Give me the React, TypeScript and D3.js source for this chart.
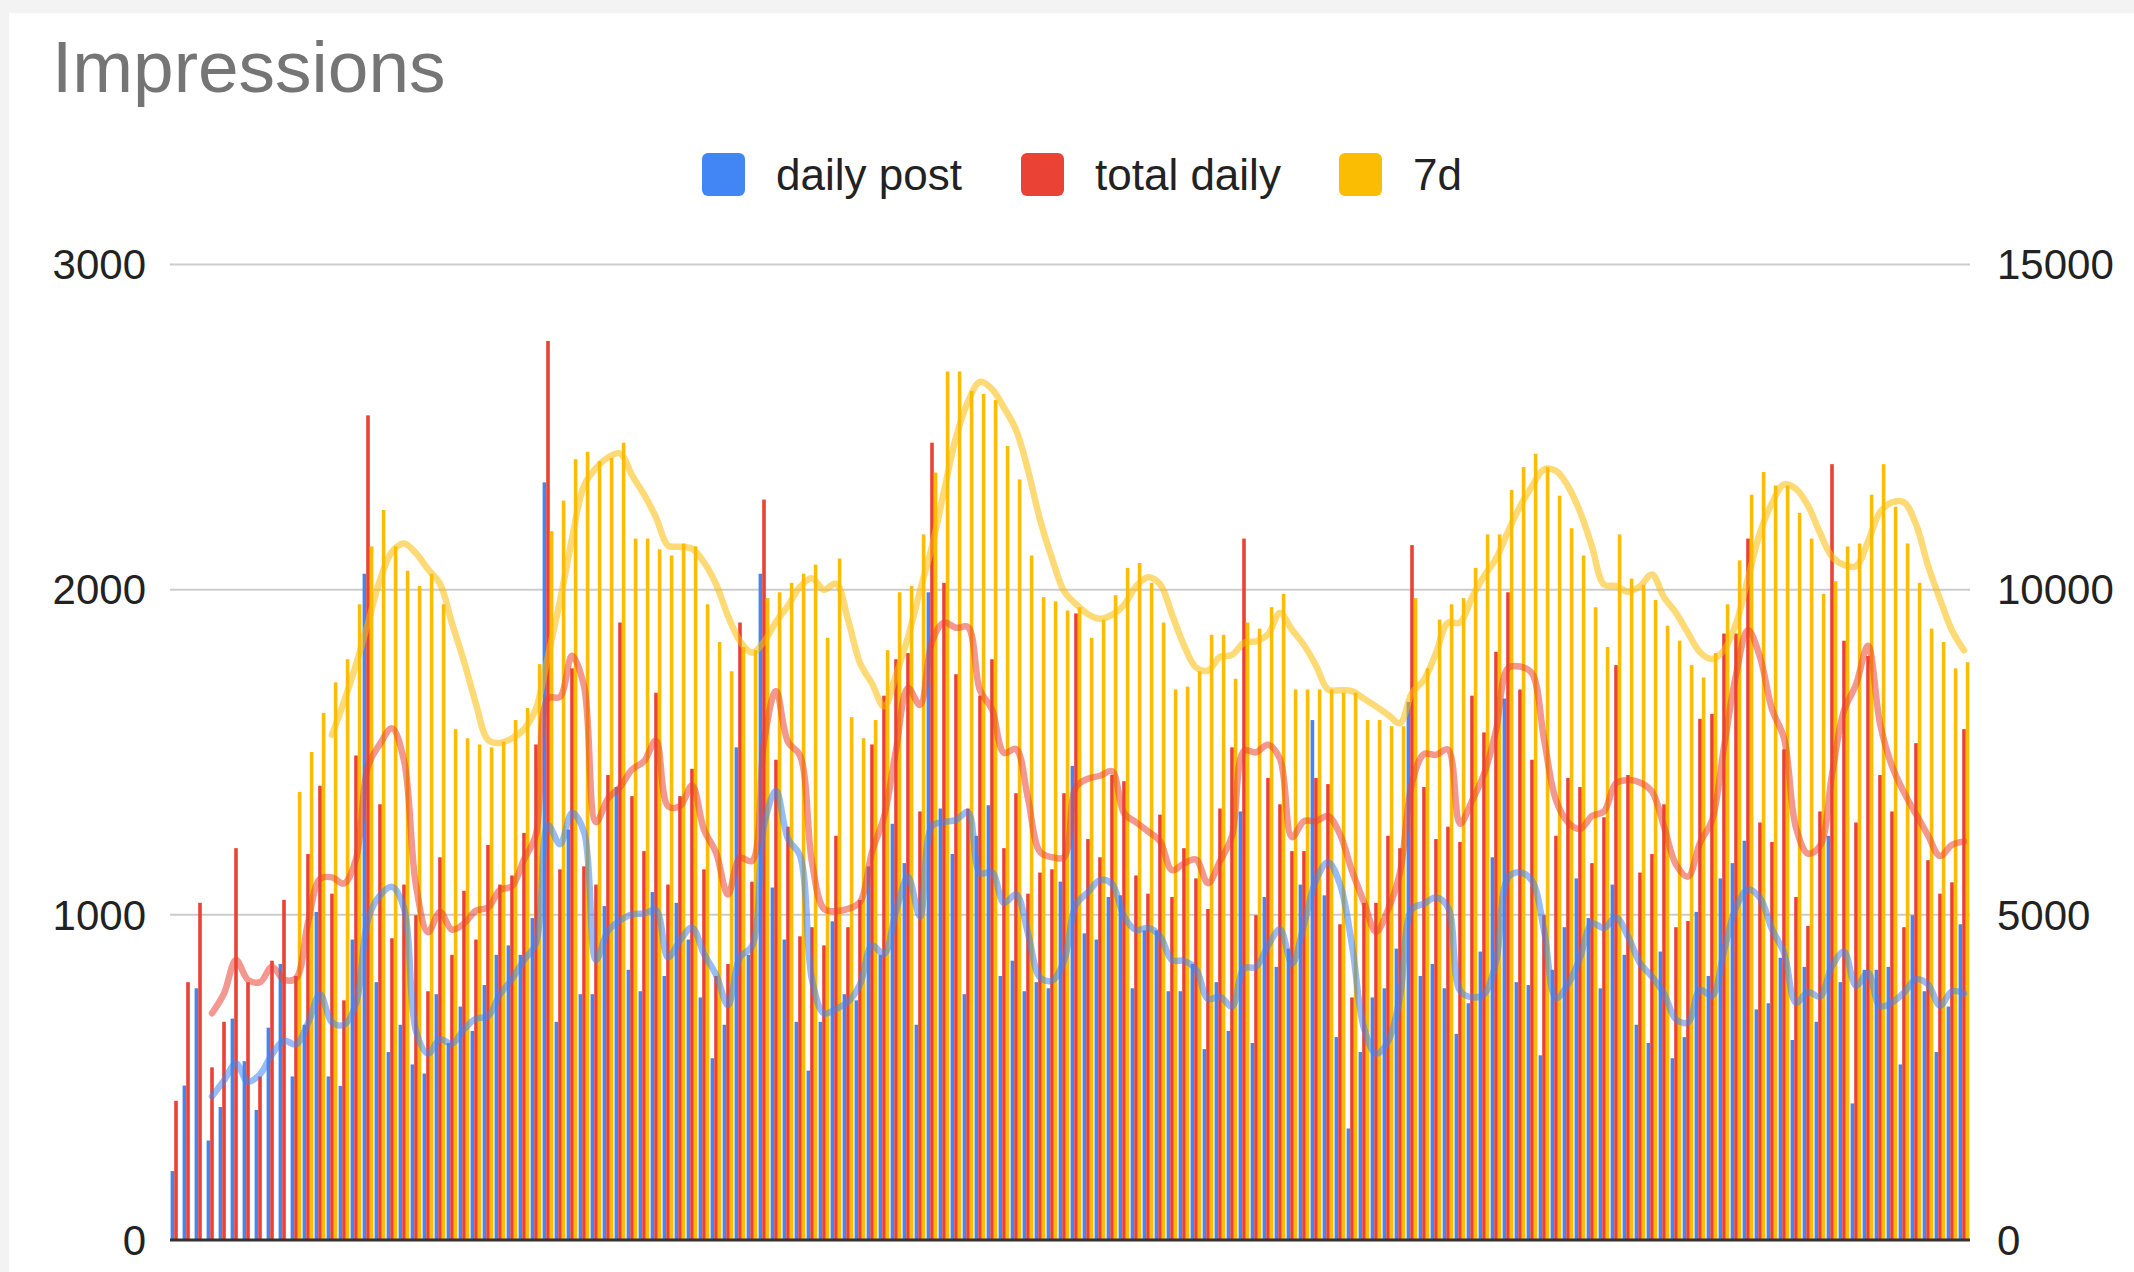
import React, { useEffect, useRef } from 'react';
import * as d3 from 'd3';

// Daily values, left axis (0-3000)
const dailyPost = [
  212, 475, 774, 306, 409, 681, 550, 400, 653, 849,
  503, 662, 1009, 503, 474, 924, 2049, 793, 578, 662,
  540, 512, 756, 606, 718, 643, 784, 877, 906, 877,
  990, 2330, 671, 1262, 756, 756, 1027, 1393, 831, 765,
  1070, 812, 1037, 924, 746, 559, 662, 1515, 877, 2049,
  1084, 924, 671, 521, 671, 980, 756, 737, 1149, 877,
  1280, 1159, 662, 1992, 1327, 1187, 756, 1243, 1337, 812,
  859, 765, 793, 774, 1102, 1458, 943, 924, 1055, 1060,
  774, 952, 952, 765, 765, 849, 587, 793, 643, 1318,
  606, 1055, 840, 896, 1093, 1599, 1060, 624, 343, 578,
  746, 774, 896, 1655, 812, 849, 774, 634, 728, 887,
  1177, 1665, 793, 784, 568, 831, 962, 1112, 990, 774,
  1093, 877, 662, 606, 887, 559, 624, 1009, 812, 1112,
  1159, 1228, 709, 728, 868, 615, 840, 671, 1243, 793,
  420, 831, 831, 840, 540, 999, 765, 578, 718, 971,
];

const totalDaily = [
  428, 793, 1037, 531, 671, 1205, 793, 503, 859, 1046,
  812, 1187, 1397, 1065, 737, 1490, 2536, 1340, 928, 1093,
  999, 765, 1177, 877, 1074, 924, 1215, 1093, 1121, 1252,
  1524, 2765, 1140, 1758, 1149, 1093, 1430, 1899, 1365, 1196,
  1683, 1093, 1365, 1449, 1140, 812, 849, 1899, 1102, 2277,
  1477, 1271, 934, 962, 906, 1243, 962, 1046, 1524, 1674,
  1786, 1805, 1318, 2452, 2021, 1740, 1327, 1674, 1786, 1205,
  1374, 1065, 1130, 1140, 1374, 1927, 1233, 1177, 1430, 1411,
  1121, 1065, 1308, 1055, 1205, 1112, 1018, 1327, 1515, 2157,
  999, 1421, 1340, 1196, 1196, 1421, 1402, 971, 746, 1037,
  1037, 1243, 1205, 2137, 1393, 1233, 1271, 1224, 1674, 1561,
  1809, 1992, 1693, 1477, 999, 1243, 1421, 1393, 1159, 1300,
  1768, 1430, 1130, 1187, 1340, 962, 981, 1603, 1618, 1865,
  1865, 2157, 1284, 1224, 1509, 1055, 966, 1318, 2386, 1843,
  1284, 1796, 1430, 1318, 962, 1528, 1168, 1065, 1100, 1571,
];

// Rolling 7 day total, right axis (0-15000)
const sevenDay: (number | null)[] = [
  null, null, null, null, null, null, null, null, null, null,
  6890, 7505, 8105, 8575, 8930, 9775, 10665, 11225, 10665, 10290,
  10057, 10245, 9775, 7855, 7715, 7620, 7575, 7665, 7995, 8180,
  8855, 10900, 11370, 12005, 12120, 11975, 12025, 12260, 10785, 10785,
  10620, 10525, 10710, 10665, 9775, 9195, 8745, 9120, 9070, 9870,
  9960, 10105, 10245, 10385, 9260, 10480, 8040, 7715, 7995, 9070,
  9960, 10055, 10850, 11800, 13355, 13355, 13055, 13010, 12915, 12210,
  11695, 10525, 9885, 9820, 9680, 9730, 9260, 9540, 9915, 10335,
  10410, 10105, 9495, 8465, 8510, 8745, 9305, 9305, 8630, 9495,
  9400, 9730, 9935, 8465, 8465, 8465, 8465, 8415, 8415, 7995,
  7995, 7900, 7900, 9870, 8790, 9540, 9775, 9870, 10335, 10850,
  10850, 11535, 11885, 12090, 11885, 11445, 10945, 10525, 9730, 9120,
  10850, 10170, 10075, 9840, 9445, 9215, 8840, 8650, 9025, 9775,
  10450, 11460, 11810, 11600, 11600, 11180, 10785, 9935, 10130, 10665,
  10710, 11460, 11930, 11275, 10710, 10105, 9400, 9195, 8790, 8885,
];

const seriesNames = ['daily post', 'total daily', '7d'];
const seriesColors = ['#4285f4', '#ea4335', '#fbbc04'];
const leftTicks = [0, 1000, 2000, 3000];
const rightTicks = [0, 5000, 10000, 15000];
const trendPeriod = 4;

const WIDTH = 2134;
const HEIGHT = 1272;
const FONT = '"Liberation Sans", Arial, Helvetica, sans-serif';

// trailing moving average, like the sheet's trendline
function movingAverage(values: (number | null)[], period: number) {
  const out: { i: number; v: number }[] = [];
  values.forEach((v, i) => {
    if (i < period - 1) return;
    const win = values.slice(i - period + 1, i + 1);
    if (win.some(w => w == null)) return;
    out.push({ i, v: d3.mean(win as number[]) as number });
  });
  return out;
}

const App: React.FC = () => {
  const svgRef = useRef<SVGSVGElement>(null);

  useEffect(() => {
    if (!svgRef.current) return;
    const svg = d3.select(svgRef.current);
    svg.selectAll('*').remove();

    const margin = { left: 170, right: 164, top: 264.5, bottom: 32 };
    const plotRight = WIDTH - margin.right;
    const plotBottom = HEIGHT - margin.bottom;

    // background card
    svg.append('rect').attr('width', WIDTH).attr('height', HEIGHT).attr('fill', '#f3f3f3');
    svg.append('rect').attr('x', 9).attr('y', 13).attr('width', WIDTH - 9).attr('height', HEIGHT - 13).attr('fill', '#ffffff');

    const days = dailyPost.map((_, i) => i);

    const x0 = d3.scaleBand<number>()
      .domain(days)
      .range([margin.left, plotRight])
      .paddingInner(0.1)
      .paddingOuter(0.05);

    const x1 = d3.scaleBand<string>()
      .domain(seriesNames)
      .range([0, x0.bandwidth()]);

    const yLeft = d3.scaleLinear().domain([0, 3000]).range([plotBottom, margin.top]);
    const yRight = d3.scaleLinear().domain([0, 15000]).range([plotBottom, margin.top]);

    // Title
    svg.append('text')
      .attr('x', 52)
      .attr('y', 92)
      .attr('font-family', FONT)
      .attr('font-size', 73)
      .attr('fill', '#757575')
      .text('Impressions');

    // Legend
    const legendX = [702, 1021, 1339];
    const legend = svg.append('g');
    seriesNames.forEach((name, k) => {
      legend.append('rect')
        .attr('x', legendX[k])
        .attr('y', 153)
        .attr('width', 43)
        .attr('height', 43)
        .attr('rx', 6)
        .attr('fill', seriesColors[k]);
      legend.append('text')
        .attr('x', legendX[k] + 74)
        .attr('y', 175)
        .attr('dy', '0.35em')
        .attr('font-family', FONT)
        .attr('font-size', 44)
        .attr('fill', '#222222')
        .text(name);
    });

    // Gridlines
    svg.append('g')
      .selectAll('line')
      .data(leftTicks.filter(t => t > 0))
      .enter()
      .append('line')
      .attr('x1', margin.left)
      .attr('x2', plotRight)
      .attr('y1', d => yLeft(d))
      .attr('y2', d => yLeft(d))
      .attr('stroke', '#cccccc')
      .attr('stroke-width', 2);

    // Axis labels
    svg.append('g')
      .selectAll('text')
      .data(leftTicks)
      .enter()
      .append('text')
      .attr('x', 146)
      .attr('y', d => yLeft(d))
      .attr('dy', '0.35em')
      .attr('text-anchor', 'end')
      .attr('font-family', FONT)
      .attr('font-size', 42)
      .attr('fill', '#222222')
      .text(d => d);

    svg.append('g')
      .selectAll('text')
      .data(rightTicks)
      .enter()
      .append('text')
      .attr('x', 1997)
      .attr('y', d => yRight(d))
      .attr('dy', '0.35em')
      .attr('text-anchor', 'start')
      .attr('font-family', FONT)
      .attr('font-size', 42)
      .attr('fill', '#222222')
      .text(d => d);

    // Bars
    const bars = svg.append('g');
    const barSets: { name: string; color: string; values: (number | null)[]; y: d3.ScaleLinear<number, number> }[] = [
      { name: seriesNames[0], color: seriesColors[0], values: dailyPost, y: yLeft },
      { name: seriesNames[1], color: seriesColors[1], values: totalDaily, y: yLeft },
      { name: seriesNames[2], color: seriesColors[2], values: sevenDay, y: yRight },
    ];

    barSets.forEach(s => {
      bars.append('g')
        .selectAll('rect')
        .data(s.values.map((v, i) => ({ i, v })).filter(d => d.v != null))
        .enter()
        .append('rect')
        .attr('x', d => (x0(d.i) as number) + (x1(s.name) as number))
        .attr('width', x1.bandwidth())
        .attr('y', d => s.y(d.v as number))
        .attr('height', d => plotBottom - s.y(d.v as number))
        .attr('fill', s.color);
    });

    // Baseline
    svg.append('line')
      .attr('x1', margin.left)
      .attr('x2', plotRight)
      .attr('y1', plotBottom)
      .attr('y2', plotBottom)
      .attr('stroke', '#333333')
      .attr('stroke-width', 3);

    // Trendlines (moving average)
    const trends = svg.append('g');
    barSets.forEach(s => {
      const pts = movingAverage(s.values, trendPeriod);
      const line = d3.line<{ i: number; v: number }>()
        .x(d => (x0(d.i) as number) + x0.bandwidth() / 2)
        .y(d => s.y(d.v))
        .curve(d3.curveCatmullRom.alpha(0.5));
      trends.append('path')
        .attr('d', line(pts))
        .attr('fill', 'none')
        .attr('stroke', s.color)
        .attr('stroke-opacity', 0.55)
        .attr('stroke-width', 6.5)
        .attr('stroke-linejoin', 'round')
        .attr('stroke-linecap', 'round');
    });
  }, []);

  return (
    <svg
      ref={svgRef}
      width={WIDTH}
      height={HEIGHT}
      style={{ position: 'absolute', left: 0, top: 0, display: 'block' }}
    />
  );
};

export default App;
